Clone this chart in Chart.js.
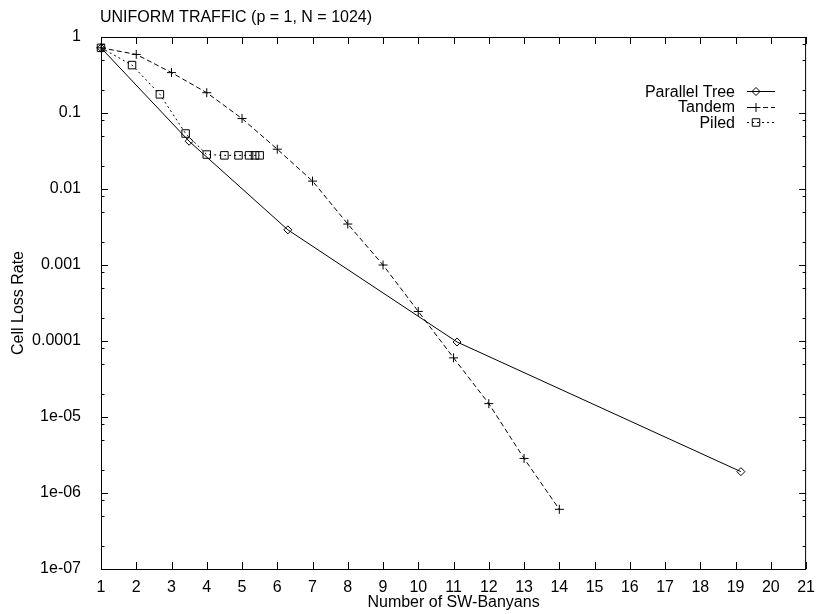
<!DOCTYPE html>
<html>
<head>
<meta charset="utf-8">
<title>Uniform traffic cell loss rate</title>
<script src="https://cdn.jsdelivr.net/npm/chart.js"></script>
<style>
  html, body { margin: 0; padding: 0; background: #fff; }
  canvas { display: block; }
</style>
</head>
<body>
<canvas id="clrChart" width="816" height="614"></canvas>
<script>
// Cell loss rate vs. number of SW-Banyans (uniform traffic, p = 1, N = 1024)
const parallelX = [1, 3.5, 6.3, 11.1, 19.15];
const parallelY = [0.72, 0.0425, 0.0029, 9.7e-5, 1.91e-6];

const tandemX = [1, 2, 3, 4, 5, 6, 7, 8, 9, 10, 11, 12, 13, 14];
const tandemY = [0.72, 0.59, 0.34, 0.185, 0.0845, 0.0334, 0.0127, 0.00346, 0.001, 2.45e-4, 6.0e-5, 1.5e-5, 2.85e-6, 6.1e-7];

const piledX = [1, 1.88, 2.67, 3.4, 4, 4.5, 4.9, 5.2, 5.37, 5.5];
const piledY = [0.72, 0.427, 0.176, 0.0537, 0.0284, 0.0277, 0.0277, 0.0277, 0.0277, 0.0277];

const yTickValues = [1, 0.1, 0.01, 0.001, 0.0001, 1e-5, 1e-6, 1e-7];
const yTickLabels = ["1", "0.1", "0.01", "0.001", "0.0001", "1e-05", "1e-06", "1e-07"];
const yMinorSteps = [0.8, 0.5, 0.2];

const chartTitle = "UNIFORM TRAFFIC (p = 1, N = 1024)";
const FONT = "'Liberation Sans', Arial, Helvetica, sans-serif";

const toPoints = (xs, ys) => xs.map((x, i) => ({ x: x, y: ys[i] }));

const makeSeries = (label, data, dash, style, radius) => ({
    label: label,
    data: data,
    showLine: true,
    borderColor: "#000",
    borderWidth: 1,
    borderDash: dash,
    pointStyle: style,
    pointRadius: radius,
    pointBorderWidth: 1,
    pointBorderColor: "#000",
    pointBackgroundColor: "rgba(0,0,0,0)",
    tension: 0,
    clip: false,
});

// hollow gnuplot-style markers for the key
const drawMarker = (ctx, style, x, y, r) => {
    ctx.beginPath();
    if (style === "rectRot") {
        ctx.moveTo(x - r, y);
        ctx.lineTo(x, y - r);
        ctx.lineTo(x + r, y);
        ctx.lineTo(x, y + r);
        ctx.closePath();
    } else if (style === "rect") {
        const s = r * Math.SQRT1_2;
        ctx.rect(x - s, y - s, 2 * s, 2 * s);
    } else {
        ctx.moveTo(x - r, y);
        ctx.lineTo(x + r, y);
        ctx.moveTo(x, y - r);
        ctx.lineTo(x, y + r);
    }
    ctx.stroke();
};

// Box, inward ticks on all four sides, title and key
const framePlugin = {
    id: "frame",
    beforeDatasetsDraw(chart) {
        const { ctx, chartArea: a, scales: { x, y } } = chart;
        ctx.save();
        ctx.strokeStyle = "#000";
        ctx.lineWidth = 1;
        ctx.setLineDash([]);
        ctx.strokeRect(a.left + 0.5, a.top + 0.5, a.right - a.left - 1, a.bottom - a.top);

        ctx.beginPath();
        x.ticks.forEach((t) => {
            const px = Math.round(x.getPixelForValue(t.value)) + 0.5;
            ctx.moveTo(px, a.bottom);
            ctx.lineTo(px, a.bottom - 7);
            ctx.moveTo(px, a.top);
            ctx.lineTo(px, a.top + 7);
        });

        const tick = (v, len) => {
            const py = Math.round(y.getPixelForValue(v)) + 0.5;
            ctx.moveTo(a.left, py);
            ctx.lineTo(a.left + len, py);
            ctx.moveTo(a.right, py);
            ctx.lineTo(a.right - len, py);
        };
        yTickValues.forEach((v) => {
            tick(v, 7);
            yMinorSteps.forEach((m) => {
                const mv = v * m;
                if (mv > y.min) tick(mv, 3.5);
            });
        });
        ctx.stroke();
        ctx.restore();
    },
    afterDraw(chart) {
        const { ctx } = chart;
        ctx.save();
        ctx.fillStyle = "#000";
        ctx.font = "16px " + FONT;
        ctx.textBaseline = "alphabetic";
        ctx.textAlign = "left";
        ctx.fillText(chartTitle, 100, 22);

        ctx.textAlign = "right";
        ctx.strokeStyle = "#000";
        ctx.lineWidth = 1;
        chart.data.datasets.forEach((ds, i) => {
            const rowY = 91 + i * 15.5;
            ctx.fillText(ds.label, 735, rowY + 5.8);
            const ly = Math.round(rowY) + 0.5;
            ctx.setLineDash(ds.borderDash);
            ctx.beginPath();
            ctx.moveTo(747, ly);
            ctx.lineTo(775, ly);
            ctx.stroke();
            ctx.setLineDash([]);
            drawMarker(ctx, ds.pointStyle, 756, ly, ds.pointRadius);
        });
        ctx.restore();
    },
};

new Chart(document.getElementById("clrChart"), {
    type: "scatter",
    data: {
        datasets: [
            makeSeries("Parallel Tree", toPoints(parallelX, parallelY), [], "rectRot", 4),
            makeSeries("Tandem", toPoints(tandemX, tandemY), [5, 3], "cross", 4.5),
            makeSeries("Piled", toPoints(piledX, piledY), [2, 3], "rect", 5.3),
        ],
    },
    options: {
        responsive: false,
        devicePixelRatio: 1,
        animation: false,
        layout: { padding: { top: 37, right: 9, bottom: 0, left: 0 } },
        plugins: {
            legend: { display: false },
            title: { display: false },
            tooltip: { enabled: false },
        },
        scales: {
            x: {
                type: "linear",
                min: 1,
                max: 21,
                grid: { display: false },
                border: { display: false },
                ticks: {
                    stepSize: 1,
                    autoSkip: false,
                    maxRotation: 0,
                    padding: 1,
                    color: "#000",
                    font: { size: 16, family: FONT },
                },
                title: {
                    display: true,
                    text: "Number of SW-Banyans",
                    color: "#000",
                    font: { size: 16, family: FONT },
                    padding: { top: 0, bottom: 2 },
                },
                afterFit(scale) { scale.height = 45; },
            },
            y: {
                type: "logarithmic",
                min: 1e-7,
                max: 1,
                grid: { display: false },
                border: { display: false },
                afterBuildTicks(scale) {
                    scale.ticks = yTickValues.map((v) => ({ value: v }));
                },
                ticks: {
                    padding: 12,
                    color: "#000",
                    font: { size: 16, family: FONT },
                    callback: (v) => {
                        const i = yTickValues.indexOf(v);
                        return i >= 0 ? yTickLabels[i] : "";
                    },
                },
                title: {
                    display: true,
                    text: "Cell Loss Rate",
                    color: "#000",
                    font: { size: 16, family: FONT },
                    padding: { top: 9, bottom: 0 },
                },
                afterFit(scale) { scale.width = 101; },
            },
        },
    },
    plugins: [framePlugin],
});
</script>
</body>
</html>
